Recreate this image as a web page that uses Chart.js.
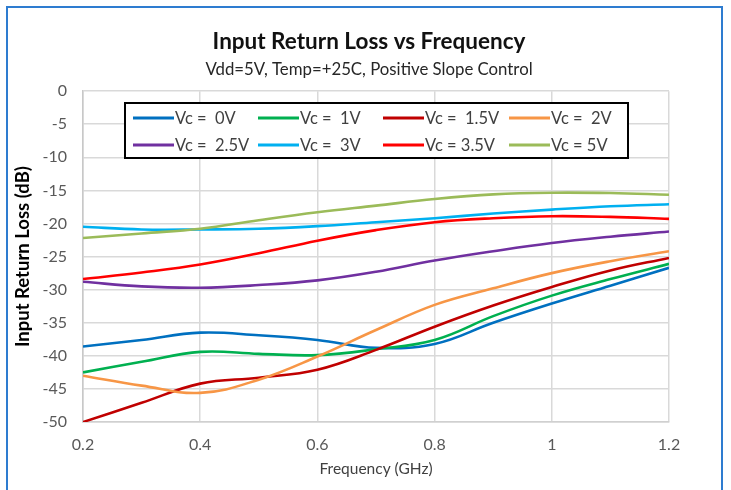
<!DOCTYPE html>
<html><head><meta charset="utf-8">
<script src="https://cdn.jsdelivr.net/npm/chart.js@4/dist/chart.umd.min.js"></script>
<style>
html,body{margin:0;padding:0;background:#fff;overflow:hidden;width:731px;height:490px;}
#wrap{position:relative;width:731px;height:490px;}
#frame{position:absolute;left:6px;top:6px;width:717px;height:520px;border:2px solid #2E7CD0;box-sizing:border-box;pointer-events:none;}
canvas{position:absolute;left:0;top:0;}
</style></head>
<body><div id="wrap"><canvas id="c" width="731" height="490"></canvas><div id="frame"></div></div>
<script>
const freq = [0.2, 0.3, 0.4, 0.5, 0.6, 0.7, 0.8, 0.9, 1.0, 1.1, 1.2];
const vc0V  = [-38.6, -37.6, -36.5, -36.9, -37.6, -38.8, -38.2, -35.0, -32.1, -29.4, -26.7];
const vc1V  = [-42.5, -40.9, -39.4, -39.7, -39.9, -39.0, -37.6, -34.0, -30.9, -28.4, -26.1];
const vc15V = [-50.0, -47.1, -44.2, -43.3, -42.1, -39.1, -35.6, -32.4, -29.6, -27.1, -25.2];
const vc2V  = [-43.0, -44.5, -45.6, -43.6, -40.1, -36.1, -32.3, -29.8, -27.5, -25.7, -24.2];
const vc25V = [-28.8, -29.5, -29.7, -29.3, -28.6, -27.3, -25.6, -24.2, -22.95, -22.0, -21.2];
const vc3V  = [-20.5, -20.9, -20.9, -20.8, -20.4, -19.8, -19.2, -18.5, -17.9, -17.4, -17.1];
const vc35V = [-28.4, -27.4, -26.2, -24.5, -22.6, -21.0, -19.8, -19.2, -18.9, -19.0, -19.3];
const vc5V  = [-22.2, -21.5, -20.8, -19.5, -18.3, -17.3, -16.3, -15.6, -15.35, -15.4, -15.65];

const seriesNames = ['Vc =  0V', 'Vc =  1V', 'Vc =  1.5V', 'Vc =  2V', 'Vc =  2.5V', 'Vc =  3V', 'Vc = 3.5V', 'Vc = 5V'];
const seriesValues = [vc0V, vc1V, vc15V, vc2V, vc25V, vc3V, vc35V, vc5V];
const seriesColors = ['#0070C0', '#00B050', '#C00000', '#F79646', '#7030A0', '#00B0F0', '#FF0000', '#9BBB59'];

const xTickValues = [0.2, 0.4, 0.6, 0.8, 1.0, 1.2];
const xTickLabels = ['0.2', '0.4', '0.6', '0.8', '1', '1.2'];
const yTickValues = [0, -5, -10, -15, -20, -25, -30, -35, -40, -45, -50];
const yTickLabels = ['0', '-5', '-10', '-15', '-20', '-25', '-30', '-35', '-40', '-45', '-50'];

const FONT = 'Lato, "Open Sans", sans-serif';

const datasets = seriesValues.map((vals, i) => ({
  label: seriesNames[i],
  data: freq.map((f, j) => ({x: f, y: vals[j]})),
  borderColor: seriesColors[i],
  backgroundColor: seriesColors[i],
  borderWidth: 2.6,
  pointRadius: 0,
  tension: 0.4,
  fill: false,
  order: seriesValues.length - i
}));

const boxLegend = {
  id: 'boxLegend',
  afterDraw(chart) {
    const ctx = chart.ctx;
    ctx.save();
    const x0 = 125, y0 = 103, w = 503, h = 55;
    ctx.fillStyle = '#fff';
    ctx.fillRect(x0, y0, w, h);
    ctx.strokeStyle = '#000';
    ctx.lineWidth = 2;
    ctx.strokeRect(x0, y0, w, h);
    const colX = [133, 258, 383, 509];
    const rowY = [118, 145];
    ctx.font = '16.5px ' + FONT;
    ctx.textBaseline = 'middle';
    ctx.textAlign = 'left';
    seriesNames.forEach((name, i) => {
      const r = Math.floor(i / 4), c = i % 4;
      const lx = colX[c], ly = rowY[r];
      ctx.strokeStyle = seriesColors[i];
      ctx.lineWidth = 3;
      ctx.beginPath();
      ctx.moveTo(lx, ly);
      ctx.lineTo(lx + 41, ly);
      ctx.stroke();
      ctx.fillStyle = '#404040';
      ctx.fillText(name, lx + 42, ly + 1);
    });
    ctx.restore();
  }
};

new Chart(document.getElementById('c'), {
  type: 'line',
  data: { datasets },
  plugins: [boxLegend],
  options: {
    responsive: false,
    animation: false,
    devicePixelRatio: 1,
    layout: { padding: { left: 7, right: 0, top: 0, bottom: 0 } },
    plugins: {
      legend: { display: false },
      tooltip: { enabled: false },
      title: {
        display: true,
        text: 'Input Return Loss vs Frequency',
        color: '#111',
        font: { family: FONT, size: 22.5, weight: 'bold', lineHeight: 1.2 },
        padding: { top: 28, bottom: 3 }
      },
      subtitle: {
        display: true,
        text: 'Vdd=5V, Temp=+25C, Positive Slope Control',
        color: '#262626',
        font: { family: FONT, size: 16.8, lineHeight: 1.2 },
        padding: { top: 2, bottom: 11 }
      }
    },
    scales: {
      x: {
        type: 'linear',
        min: 0.2,
        max: 1.2,
        afterBuildTicks: (s) => { s.ticks = xTickValues.map(v => ({ value: v })); },
        afterFit: (s) => { s.height = 68; },
        ticks: {
          callback: (v, i) => xTickLabels[i],
          color: '#595959',
          font: { family: FONT, size: 16 },
          padding: 13,
          maxRotation: 0
        },
        grid: { color: '#d9d9d9', lineWidth: 1.5, drawTicks: false },
        border: { display: true, color: '#d0d0d0', width: 1.5 },
        title: {
          display: true,
          text: 'Frequency (GHz)',
          color: '#404040',
          font: { family: FONT, size: 15.5, lineHeight: 1.2 },
          padding: { top: 0, bottom: 12 }
        }
      },
      y: {
        type: 'linear',
        min: -50,
        max: 0,
        afterBuildTicks: (s) => { s.ticks = yTickValues.map(v => ({ value: v })); },
        afterFit: (s) => { s.width = 76; },
        ticks: {
          callback: (v, i) => yTickLabels[i],
          color: '#595959',
          font: { family: FONT, size: 16 },
          padding: 16
        },
        grid: { color: '#d9d9d9', lineWidth: 1.5, drawTicks: false },
        border: { display: true, color: '#c8c8c8', width: 1.5 },
        title: {
          display: true,
          text: 'Input Return Loss (dB)',
          color: '#000',
          font: { family: FONT, size: 18.5, weight: 'bold', lineHeight: 1.2 },
          padding: { top: 5, bottom: 0 }
        }
      },
      yR: {
        type: 'linear',
        position: 'right',
        min: -50,
        max: 0,
        afterFit: (s) => { s.width = 62; },
        ticks: { display: false },
        grid: { display: false, drawOnChartArea: false },
        border: { display: false }
      }
    }
  }
});
</script>
</body></html>
